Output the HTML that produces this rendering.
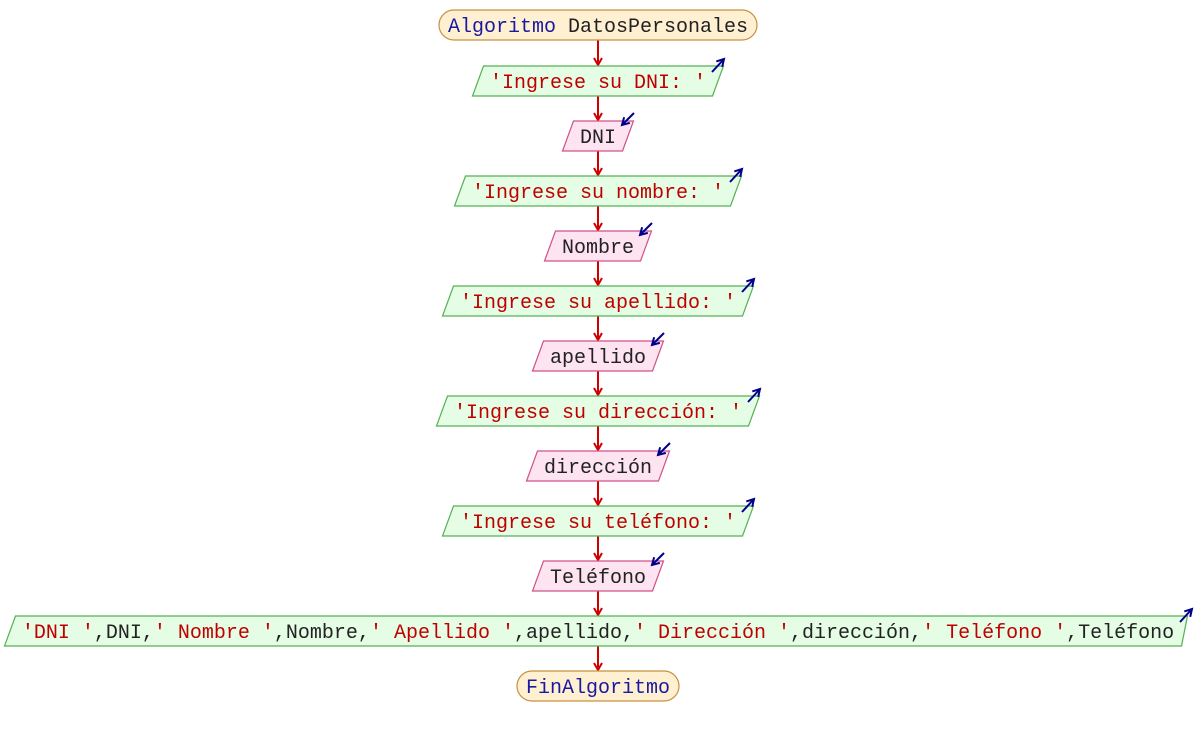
<!DOCTYPE html>
<html><head><meta charset="utf-8"><style>
body{margin:0;background:#fff}
svg text{font-family:"Liberation Mono","DejaVu Sans Mono",monospace;font-size:20px}
.s{fill:#c00000}.k{fill:#1a1aa0}.v{fill:#222}
.t{fill:#fff0d2;stroke:#c89040;stroke-width:1.2}
.o{fill:#e4fde4;stroke:#55b055;stroke-width:1.2}
.i{fill:#fde4f0;stroke:#d05088;stroke-width:1.2}
.c{stroke:#d00000;stroke-width:2;fill:none;marker-end:url(#ra)}
.b{stroke:#00008b;stroke-width:2;fill:none;marker-end:url(#ba)}
</style></head><body>
<svg width="1196" height="735" viewBox="0 0 1196 735">
<defs>
<marker id="ra" markerWidth="10" markerHeight="10" refX="8" refY="5" orient="auto" markerUnits="userSpaceOnUse"><path d="M1,1 L8,5 L1,9" fill="none" stroke="#d00000" stroke-width="2"/></marker>
<marker id="ba" markerWidth="10" markerHeight="10" refX="8" refY="5" orient="auto" markerUnits="userSpaceOnUse"><path d="M1,1 L8,5 L1,9" fill="none" stroke="#00008b" stroke-width="2"/></marker>
</defs>
<!-- connectors -->
<line class="c" x1="598" y1="40" x2="598" y2="65"/>
<line class="c" x1="598" y1="96" x2="598" y2="120"/>
<line class="c" x1="598" y1="151" x2="598" y2="175"/>
<line class="c" x1="598" y1="206" x2="598" y2="230"/>
<line class="c" x1="598" y1="261" x2="598" y2="285"/>
<line class="c" x1="598" y1="316" x2="598" y2="340"/>
<line class="c" x1="598" y1="371" x2="598" y2="395"/>
<line class="c" x1="598" y1="426" x2="598" y2="450"/>
<line class="c" x1="598" y1="481" x2="598" y2="505"/>
<line class="c" x1="598" y1="536" x2="598" y2="560"/>
<line class="c" x1="598" y1="591" x2="598" y2="615"/>
<line class="c" x1="598" y1="646" x2="598" y2="670"/>

<rect class="t" x="439" y="10" width="318" height="30" rx="15"/>
<text x="598" y="32" text-anchor="middle"><tspan class="k">Algoritmo</tspan><tspan class="v"> DatosPersonales</tspan></text>

<polygon class="o" points="483.5,66 723.5,66 712.5,96 472.5,96"/>
<text x="598" y="88" text-anchor="middle" class="s">'Ingrese su DNI: '</text>
<line class="b" x1="712" y1="72" x2="724" y2="59"/>

<polygon class="i" points="573.5,121 633.5,121 622.5,151 562.5,151"/>
<text x="598" y="143" text-anchor="middle" class="v">DNI</text>
<line class="b" x1="634" y1="113" x2="622" y2="125"/>

<polygon class="o" points="465.5,176 741.5,176 730.5,206 454.5,206"/>
<text x="598" y="198" text-anchor="middle" class="s">'Ingrese su nombre: '</text>
<line class="b" x1="730" y1="182" x2="742" y2="169"/>

<polygon class="i" points="555.5,231 651.5,231 640.5,261 544.5,261"/>
<text x="598" y="253" text-anchor="middle" class="v">Nombre</text>
<line class="b" x1="652" y1="223" x2="640" y2="235"/>

<polygon class="o" points="453.5,286 753.5,286 742.5,316 442.5,316"/>
<text x="598" y="308" text-anchor="middle" class="s">'Ingrese su apellido: '</text>
<line class="b" x1="742" y1="292" x2="754" y2="279"/>

<polygon class="i" points="543.5,341 663.5,341 652.5,371 532.5,371"/>
<text x="598" y="363" text-anchor="middle" class="v">apellido</text>
<line class="b" x1="664" y1="333" x2="652" y2="345"/>

<polygon class="o" points="447.5,396 759.5,396 748.5,426 436.5,426"/>
<text x="598" y="418" text-anchor="middle" class="s">'Ingrese su dirección: '</text>
<line class="b" x1="748" y1="402" x2="760" y2="389"/>

<polygon class="i" points="537.5,451 669.5,451 658.5,481 526.5,481"/>
<text x="598" y="473" text-anchor="middle" class="v">dirección</text>
<line class="b" x1="670" y1="443" x2="658" y2="455"/>

<polygon class="o" points="453.5,506 753.5,506 742.5,536 442.5,536"/>
<text x="598" y="528" text-anchor="middle" class="s">'Ingrese su teléfono: '</text>
<line class="b" x1="742" y1="512" x2="754" y2="499"/>

<polygon class="i" points="543.5,561 663.5,561 652.5,591 532.5,591"/>
<text x="598" y="583" text-anchor="middle" class="v">Teléfono</text>
<line class="b" x1="664" y1="553" x2="652" y2="565"/>

<polygon class="o" points="15.5,616 1187.5,616 1181.5,646 4.5,646"/>
<text x="598" y="638" text-anchor="middle"><tspan class="s">'DNI '</tspan><tspan class="v">,DNI,</tspan><tspan class="s">' Nombre '</tspan><tspan class="v">,Nombre,</tspan><tspan class="s">' Apellido '</tspan><tspan class="v">,apellido,</tspan><tspan class="s">' Dirección '</tspan><tspan class="v">,dirección,</tspan><tspan class="s">' Teléfono '</tspan><tspan class="v">,Teléfono</tspan></text>
<line class="b" x1="1180" y1="622" x2="1192" y2="609"/>

<rect class="t" x="517" y="671" width="162" height="30" rx="15"/>
<text x="598" y="693" text-anchor="middle" class="k">FinAlgoritmo</text>
</svg>
</body></html>
